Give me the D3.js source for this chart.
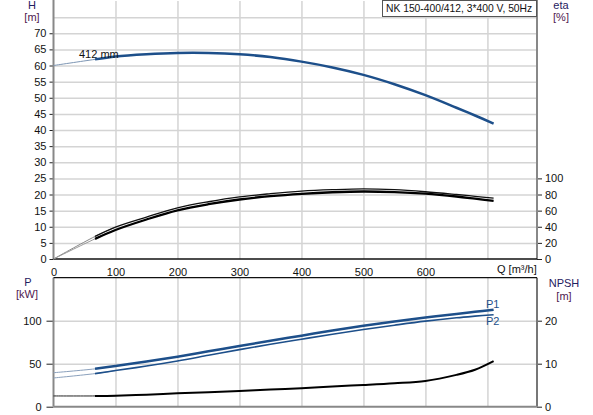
<html><head>
<title>NK 150-400/412 pump curves</title>
<script src="https://d3js.org/d3.v7.min.js"></script>
<style>
  body { margin: 0; background: #fff; }
  svg text { font-family: "Liberation Sans", Arial, sans-serif; font-size: 11px; }
  .grid line { stroke: #d4d4d4; stroke-width: 1.5; }
  .grid .domain { stroke: none; }
  .axis .domain { stroke: none; }
  .axis line { stroke: #222; }
</style>
</head>
<body>
<svg id="chart" width="593" height="415"></svg>
<script>

  // flow points (m3/h) shared by all curves
  const qPts   = [0, 67, 100, 150, 200, 250, 300, 350, 400, 450, 500, 550, 600, 650, 680, 710];
  // head H [m]
  const head   = [60, 61.9, 62.8, 63.5, 63.9, 63.9, 63.5, 62.6, 61.2, 59.4, 57.1, 54.2, 50.8, 46.9, 44.5, 42.0];
  // efficiency eta [%], pump and pump+motor
  const etaUp  = [0, 28, 39.6, 52, 63.4, 71, 77, 81, 84.2, 86, 87, 86, 83.4, 80, 77.8, 75.4];
  const etaLow = [0, 25, 36, 49, 60.4, 68, 73.8, 78, 80.9, 82.8, 83.7, 83, 81, 77.5, 74.8, 72];
  // power P1 / P2 [kW]
  const powerP1 = [39.5, 44, 47.3, 52.5, 58.2, 64.4, 70.6, 76.7, 82.6, 88.6, 94.2, 99.2, 103.7, 107.8, 110.3, 112.8];
  const powerP2 = [33.4, 38.5, 42, 47.3, 53.2, 59.8, 66.4, 72.6, 78.5, 84.3, 89.8, 94.8, 99.5, 103.4, 105.3, 107];
  // NPSH [m]
  const npsh   = [2.5, 2.5, 2.56, 2.8, 3.1, 3.35, 3.65, 4.0, 4.3, 4.7, 5.05, 5.45, 6.0, 7.4, 8.6, 10.6];

  const qTicks    = [0, 100, 200, 300, 400, 500, 600];
  const hTicks    = [0, 5, 10, 15, 20, 25, 30, 35, 40, 45, 50, 55, 60, 65, 70];
  const etaTicks  = [0, 20, 40, 60, 80, 100];
  const pTicks    = [0, 50, 100];
  const npshTicks = [0, 10, 20];

  const svg = d3.select("svg#chart");

  const left = 53.5, right = 537;
  const topY0 = 259, topY1 = 1;
  const botY0 = 406.7, botY1 = 277.7;

  const xScale = d3.scaleLinear().domain([0, 780]).range([left, right]);
  const hScale = d3.scaleLinear().domain([0, 80]).range([topY0, topY1]);
  const etaScale = d3.scaleLinear().domain([0, 100]).range([topY0, topY0 - (topY0 - topY1) * 25 / 80]);
  const pScale = d3.scaleLinear().domain([0, 150]).range([botY0, botY1]);
  const npshScale = d3.scaleLinear().domain([0, 30]).range([botY0, botY1]);

  // ---- gridlines ----
  svg.append("g").attr("class", "grid")
    .attr("transform", "translate(0," + topY0 + ")")
    .call(d3.axisBottom(xScale).tickValues([100, 200, 300, 400, 500, 600, 700])
      .tickSize(-(topY0 - topY1)).tickFormat(""));
  svg.append("g").attr("class", "grid")
    .attr("transform", "translate(" + left + ",0)")
    .call(d3.axisLeft(hScale).tickValues(d3.range(5, 80, 5))
      .tickSize(-(right - left)).tickFormat(""));

  svg.append("g").attr("class", "grid")
    .attr("transform", "translate(0," + botY0 + ")")
    .call(d3.axisBottom(xScale).tickValues([100, 200, 300, 400, 500, 600, 700])
      .tickSize(-(botY0 - botY1)).tickFormat(""));
  svg.append("g").attr("class", "grid")
    .attr("transform", "translate(" + left + ",0)")
    .call(d3.axisLeft(pScale).tickValues([50, 100])
      .tickSize(-(right - left)).tickFormat(""));

  // ---- axes ----
  let hAxis = svg.append("g").attr("class", "axis")
    .attr("transform", "translate(" + left + ",0)")
    .call(d3.axisLeft(hScale).tickValues(hTicks).tickSize(4).tickPadding(3));
  let etaAxis = svg.append("g").attr("class", "axis")
    .attr("transform", "translate(" + right + ",0)")
    .call(d3.axisRight(etaScale).tickValues(etaTicks).tickSize(5).tickPadding(3));
  let qAxis = svg.append("g").attr("class", "axis")
    .attr("transform", "translate(0," + topY0 + ")")
    .call(d3.axisBottom(xScale).tickValues(qTicks).tickSize(0).tickPadding(9));
  let pAxis = svg.append("g").attr("class", "axis")
    .attr("transform", "translate(" + left + ",0)")
    .call(d3.axisLeft(pScale).tickValues(pTicks).tickSize(7).tickPadding(5));
  let npshAxis = svg.append("g").attr("class", "axis")
    .attr("transform", "translate(" + right + ",0)")
    .call(d3.axisRight(npshScale).tickValues(npshTicks).tickSize(5).tickPadding(3));

  svg.selectAll(".axis text").attr("fill", "#111").style("font-size", "11px");

  // frame lines
  svg.append("line").attr("x1", left).attr("x2", left).attr("y1", 0).attr("y2", topY0)
    .attr("stroke", "#888").attr("stroke-width", 2);
  svg.append("line").attr("x1", right).attr("x2", right).attr("y1", 0).attr("y2", topY0)
    .attr("stroke", "#888").attr("stroke-width", 2);
  svg.append("line").attr("x1", left).attr("x2", right).attr("y1", topY0).attr("y2", topY0)
    .attr("stroke", "#111").attr("stroke-width", 1.5);

  svg.append("line").attr("x1", left).attr("x2", left).attr("y1", botY1).attr("y2", botY0)
    .attr("stroke", "#888").attr("stroke-width", 2);
  svg.append("line").attr("x1", right).attr("x2", right).attr("y1", botY1).attr("y2", botY0)
    .attr("stroke", "#777").attr("stroke-width", 2);
  svg.append("line").attr("x1", left).attr("x2", right).attr("y1", botY1).attr("y2", botY1)
    .attr("stroke", "#111").attr("stroke-width", 1.2);
  svg.append("line").attr("x1", left).attr("x2", right).attr("y1", botY0).attr("y2", botY0)
    .attr("stroke", "#888").attr("stroke-width", 2);

  // ---- curves ----
  // thin part up to the first flow point, then the thick part from Q = 67
  function drawCurve(values, yScale, color, thinColor, width) {
    let pts = qPts.map((q, i) => [q, values[i]]);
    let line = d3.line()
      .x(d => xScale(d[0]))
      .y(d => yScale(d[1]))
      .curve(d3.curveCatmullRom);
    svg.append("path").attr("d", line(pts.slice(0, 3)))
      .attr("fill", "none").attr("stroke", thinColor).attr("stroke-width", 1);
    svg.append("path").attr("d", line(pts.slice(1)))
      .attr("fill", "none").attr("stroke", color).attr("stroke-width", width)
      .attr("stroke-linecap", "butt");
  }

  drawCurve(head, hScale, "#1d4f8a", "#7d96b4", 2.5);
  drawCurve(etaUp, etaScale, "#111", "#888", 1.3);
  drawCurve(etaLow, etaScale, "#000", "#999", 2.3);
  drawCurve(powerP1, pScale, "#1d4f8a", "#8aa0bc", 2.5);
  drawCurve(powerP2, pScale, "#1d4f8a", "#8aa0bc", 1.6);
  drawCurve(npsh, npshScale, "#000", "#222", 2);

  // ---- labels ----
  function label(txt, x, y, anchor, color) {
    return svg.append("text").attr("x", x).attr("y", y)
      .attr("text-anchor", anchor).attr("fill", color).text(txt);
  }
  label("H", 32, 9, "middle", "#1f2060");
  label("[m]", 32, 21, "middle", "#502050");
  label("eta", 561, 9, "middle", "#1f2060");
  label("[%]", 561, 21, "middle", "#502050");
  label("P", 28, 286, "middle", "#1f2060");
  label("[kW]", 27, 298, "middle", "#502050");
  label("NPSH", 564, 286.5, "middle", "#1f2060");
  label("[m]", 564, 300, "middle", "#502050");
  label("Q [m\u00b3/h]", 497, 273, "start", "#111");
  label("412 mm", 79, 58, "start", "#111");
  label("P1", 486, 308, "start", "#1d4f8a");
  label("P2", 486, 325, "start", "#1d4f8a");

  // title box
  svg.append("rect").attr("x", 382.5).attr("y", 0.5).attr("width", 154).attr("height", 16)
    .attr("fill", "#fff").attr("stroke", "#555");
  label("NK 150-400/412, 3*400 V, 50Hz", 386, 12, "start", "#111")
    .style("font-size", "10.3px");

</script>
</body>
</html>
